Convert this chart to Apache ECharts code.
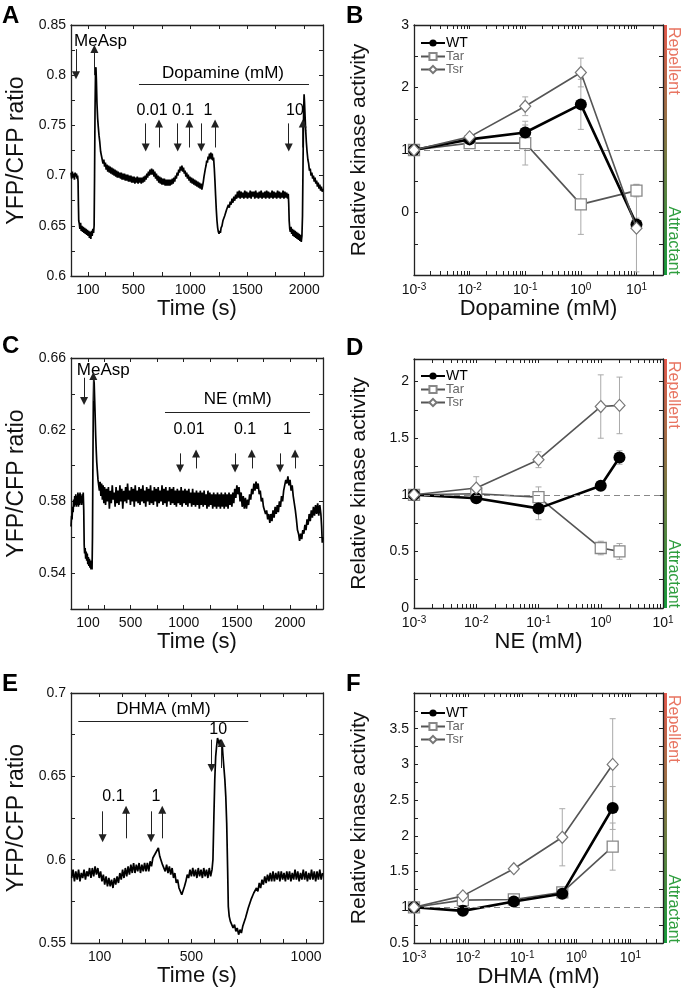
<!DOCTYPE html>
<html><head><meta charset="utf-8">
<script src="https://cdn.jsdelivr.net/npm/echarts@6/dist/echarts.min.js"></script>
<style>html,body{margin:0;padding:0;background:#fff}#c{width:685px;height:993px}</style>
</head><body><div id="c"></div>
<script>
// ---------------- DATA ----------------
// Panel A: time trace (s, YFP/CFP ratio)
const traceA = [[-48,0.703],[-42,0.697],[-36,0.704],[-30,0.698],[-24,0.702],[-18,0.696],[-12,0.703],[-6,0.699],[0,0.702],[5,0.697],[10,0.700],[14,0.694],[17,0.672],[20,0.655],[25,0.652],[30,0.647],[36,0.653],[42,0.645],[48,0.650],[54,0.644],[60,0.649],[66,0.643],[72,0.648],[78,0.642],[84,0.647],[90,0.641],[96,0.646],[102,0.640],[108,0.645],[114,0.638],[120,0.644],[126,0.637],[132,0.645],[138,0.640],[144,0.647],[150,0.643],[155,0.650],[159,0.700],[163,0.765],[167,0.800],[171,0.808],[175,0.795],[180,0.772],[186,0.757],[192,0.748],[198,0.740],[205,0.733],[212,0.724],[219,0.720],[226,0.716],[233,0.712],[240,0.716],[247,0.709],[254,0.713],[261,0.706],[268,0.711],[275,0.704],[282,0.710],[289,0.703],[296,0.709],[303,0.702],[310,0.708],[317,0.701],[324,0.707],[331,0.700],[338,0.706],[345,0.699],[352,0.705],[359,0.698],[366,0.704],[373,0.698],[380,0.703],[387,0.697],[394,0.703],[401,0.696],[408,0.702],[415,0.696],[422,0.702],[429,0.695],[436,0.701],[443,0.695],[450,0.701],[457,0.694],[464,0.700],[471,0.694],[478,0.700],[485,0.693],[492,0.699],[499,0.693],[506,0.699],[513,0.692],[520,0.698],[527,0.693],[534,0.699],[541,0.692],[548,0.698],[555,0.693],[562,0.698],[569,0.692],[576,0.698],[583,0.693],[590,0.699],[597,0.694],[604,0.700],[611,0.696],[618,0.702],[625,0.698],[632,0.704],[639,0.700],[646,0.706],[653,0.701],[660,0.707],[667,0.701],[674,0.706],[681,0.699],[688,0.704],[695,0.697],[702,0.702],[709,0.695],[716,0.700],[723,0.693],[730,0.699],[737,0.692],[744,0.698],[751,0.691],[758,0.697],[765,0.691],[772,0.697],[779,0.690],[786,0.696],[793,0.690],[800,0.696],[807,0.690],[814,0.696],[821,0.690],[828,0.696],[835,0.691],[842,0.697],[849,0.692],[856,0.698],[863,0.694],[870,0.700],[877,0.697],[884,0.703],[891,0.700],[898,0.706],[905,0.703],[912,0.709],[919,0.705],[926,0.710],[933,0.704],[940,0.708],[947,0.702],[954,0.705],[961,0.699],[968,0.703],[975,0.697],[982,0.701],[989,0.695],[996,0.699],[1003,0.693],[1010,0.698],[1017,0.692],[1024,0.697],[1031,0.691],[1038,0.696],[1045,0.690],[1052,0.695],[1059,0.689],[1066,0.694],[1073,0.688],[1080,0.693],[1087,0.687],[1094,0.692],[1101,0.686],[1108,0.690],[1114,0.694],[1120,0.699],[1126,0.703],[1132,0.707],[1138,0.710],[1144,0.715],[1150,0.713],[1156,0.719],[1162,0.716],[1168,0.722],[1174,0.717],[1180,0.723],[1186,0.716],[1192,0.722],[1198,0.715],[1204,0.718],[1210,0.708],[1216,0.695],[1222,0.680],[1228,0.666],[1234,0.655],[1240,0.648],[1246,0.644],[1252,0.642],[1258,0.645],[1264,0.643],[1270,0.648],[1278,0.650],[1286,0.655],[1294,0.654],[1302,0.660],[1310,0.660],[1318,0.666],[1326,0.665],[1334,0.671],[1342,0.668],[1350,0.674],[1358,0.671],[1366,0.677],[1374,0.673],[1382,0.679],[1390,0.675],[1398,0.681],[1406,0.677],[1414,0.684],[1422,0.678],[1430,0.685],[1438,0.677],[1446,0.684],[1454,0.678],[1462,0.683],[1470,0.677],[1478,0.685],[1486,0.678],[1494,0.684],[1502,0.677],[1510,0.683],[1518,0.678],[1526,0.685],[1534,0.677],[1542,0.684],[1550,0.679],[1558,0.684],[1566,0.677],[1574,0.685],[1582,0.678],[1590,0.683],[1598,0.677],[1606,0.684],[1614,0.678],[1622,0.685],[1630,0.677],[1638,0.683],[1646,0.678],[1654,0.684],[1662,0.677],[1670,0.685],[1678,0.678],[1686,0.684],[1694,0.677],[1702,0.683],[1710,0.678],[1718,0.685],[1726,0.677],[1734,0.684],[1742,0.678],[1750,0.683],[1758,0.677],[1766,0.685],[1774,0.678],[1782,0.684],[1790,0.677],[1798,0.683],[1806,0.678],[1814,0.685],[1822,0.677],[1830,0.684],[1838,0.678],[1846,0.683],[1854,0.677],[1860,0.682],[1864,0.672],[1868,0.655],[1873,0.647],[1878,0.644],[1884,0.649],[1890,0.642],[1896,0.647],[1902,0.640],[1908,0.646],[1914,0.639],[1920,0.645],[1926,0.638],[1932,0.644],[1938,0.637],[1944,0.643],[1950,0.636],[1956,0.642],[1962,0.635],[1968,0.641],[1974,0.634],[1980,0.640],[1985,0.660],[1990,0.715],[1995,0.765],[1999,0.781],[2003,0.772],[2008,0.758],[2013,0.745],[2019,0.733],[2025,0.724],[2032,0.716],[2039,0.712],[2046,0.705],[2053,0.707],[2060,0.700],[2067,0.703],[2074,0.697],[2081,0.700],[2088,0.694],[2095,0.698],[2102,0.692],[2109,0.695],[2116,0.689],[2123,0.693],[2130,0.687],[2137,0.691],[2144,0.685],[2151,0.689],[2158,0.684],[2165,0.687]];
// Panel C: time trace
const traceC = [[-60,0.566],[-55,0.572],[-50,0.570],[-45,0.577],[-40,0.574],[-35,0.581],[-30,0.577],[-25,0.583],[-20,0.578],[-15,0.584],[-10,0.577],[-5,0.583],[0,0.578],[5,0.585],[10,0.577],[15,0.584],[20,0.578],[25,0.585],[30,0.579],[35,0.583],[40,0.578],[45,0.584],[50,0.579],[55,0.585],[60,0.575],[64,0.556],[68,0.551],[73,0.554],[78,0.548],[83,0.552],[88,0.547],[93,0.551],[98,0.545],[103,0.549],[108,0.544],[113,0.548],[118,0.543],[123,0.547],[128,0.542],[133,0.546],[138,0.542],[142,0.560],[146,0.600],[150,0.635],[154,0.648],[158,0.646],[162,0.638],[167,0.628],[172,0.617],[177,0.609],[182,0.602],[188,0.597],[194,0.592],[200,0.593],[207,0.586],[214,0.591],[221,0.583],[228,0.590],[235,0.581],[242,0.589],[249,0.579],[256,0.588],[265,0.578],[274,0.587],[283,0.580],[292,0.588],[301,0.576],[310,0.586],[319,0.579],[328,0.589],[337,0.581],[346,0.585],[355,0.577],[364,0.588],[373,0.579],[382,0.586],[391,0.578],[400,0.589],[409,0.580],[418,0.587],[427,0.576],[436,0.586],[445,0.580],[454,0.588],[463,0.579],[472,0.590],[481,0.581],[490,0.586],[499,0.578],[508,0.588],[517,0.580],[526,0.587],[535,0.577],[544,0.589],[553,0.580],[562,0.586],[571,0.579],[580,0.588],[589,0.578],[598,0.587],[607,0.580],[616,0.589],[625,0.579],[634,0.586],[643,0.577],[652,0.588],[661,0.580],[670,0.587],[679,0.578],[688,0.589],[697,0.579],[706,0.586],[715,0.578],[724,0.588],[733,0.580],[742,0.587],[751,0.577],[760,0.588],[769,0.579],[778,0.586],[787,0.580],[796,0.589],[805,0.578],[814,0.587],[823,0.579],[832,0.588],[841,0.577],[850,0.586],[859,0.580],[868,0.588],[877,0.578],[886,0.587],[895,0.579],[904,0.588],[913,0.578],[922,0.586],[931,0.577],[940,0.587],[949,0.579],[958,0.586],[967,0.578],[976,0.588],[985,0.577],[994,0.586],[1003,0.579],[1012,0.587],[1021,0.578],[1030,0.586],[1039,0.577],[1048,0.587],[1057,0.579],[1066,0.585],[1075,0.577],[1084,0.587],[1093,0.578],[1102,0.585],[1111,0.577],[1120,0.586],[1129,0.578],[1138,0.585],[1147,0.576],[1156,0.586],[1165,0.578],[1174,0.585],[1183,0.577],[1192,0.586],[1201,0.578],[1210,0.584],[1219,0.576],[1228,0.586],[1237,0.577],[1246,0.585],[1255,0.578],[1264,0.584],[1273,0.576],[1282,0.585],[1291,0.577],[1300,0.584],[1309,0.576],[1318,0.585],[1327,0.577],[1336,0.584],[1345,0.576],[1354,0.585],[1363,0.577],[1372,0.584],[1381,0.576],[1390,0.585],[1399,0.577],[1408,0.584],[1417,0.576],[1426,0.585],[1435,0.578],[1444,0.584],[1453,0.577],[1462,0.585],[1471,0.579],[1480,0.587],[1490,0.582],[1500,0.589],[1510,0.584],[1520,0.588],[1530,0.580],[1540,0.585],[1550,0.577],[1560,0.583],[1570,0.576],[1580,0.582],[1590,0.576],[1600,0.581],[1610,0.578],[1620,0.584],[1630,0.581],[1640,0.587],[1650,0.584],[1660,0.590],[1670,0.586],[1680,0.591],[1690,0.587],[1700,0.590],[1710,0.584],[1720,0.586],[1730,0.580],[1740,0.582],[1750,0.577],[1760,0.578],[1770,0.573],[1780,0.575],[1790,0.570],[1800,0.573],[1810,0.568],[1820,0.573],[1830,0.569],[1840,0.575],[1850,0.571],[1860,0.577],[1870,0.573],[1880,0.578],[1890,0.574],[1900,0.580],[1910,0.577],[1920,0.583],[1930,0.580],[1940,0.586],[1950,0.586],[1960,0.592],[1970,0.590],[1980,0.594],[1990,0.589],[2000,0.592],[2010,0.586],[2020,0.589],[2030,0.583],[2040,0.582],[2050,0.575],[2060,0.570],[2070,0.564],[2080,0.562],[2090,0.558],[2100,0.562],[2110,0.559],[2120,0.564],[2130,0.562],[2140,0.567],[2150,0.564],[2160,0.570],[2170,0.567],[2180,0.573],[2190,0.569],[2200,0.575],[2210,0.571],[2220,0.577],[2230,0.572],[2240,0.578],[2250,0.573],[2260,0.579],[2270,0.572],[2280,0.578],[2290,0.573],[2297,0.566],[2303,0.557],[2308,0.560]];
// Panel E: time trace
const traceE = [[-22,0.589],[-16,0.594],[-10,0.587],[-4,0.593],[2,0.588],[8,0.594],[14,0.587],[20,0.592],[26,0.589],[32,0.594],[38,0.588],[44,0.593],[50,0.590],[56,0.595],[62,0.589],[68,0.595],[74,0.590],[80,0.596],[86,0.591],[92,0.595],[98,0.589],[104,0.593],[110,0.587],[116,0.591],[122,0.585],[128,0.590],[134,0.584],[140,0.589],[146,0.584],[152,0.588],[158,0.583],[164,0.589],[170,0.585],[176,0.590],[182,0.586],[188,0.592],[194,0.588],[200,0.594],[206,0.589],[212,0.595],[218,0.590],[224,0.596],[230,0.591],[236,0.597],[242,0.592],[248,0.598],[254,0.592],[260,0.597],[266,0.593],[272,0.598],[278,0.592],[284,0.597],[290,0.593],[296,0.598],[302,0.593],[308,0.598],[314,0.593],[320,0.599],[326,0.596],[332,0.601],[338,0.600],[344,0.604],[350,0.603],[356,0.607],[362,0.602],[368,0.603],[374,0.597],[380,0.598],[386,0.593],[392,0.597],[398,0.592],[404,0.596],[410,0.591],[416,0.595],[422,0.589],[428,0.592],[434,0.586],[440,0.588],[446,0.583],[452,0.584],[458,0.579],[464,0.580],[470,0.584],[476,0.587],[482,0.591],[488,0.589],[494,0.594],[500,0.590],[506,0.595],[512,0.590],[518,0.594],[524,0.589],[530,0.595],[536,0.590],[542,0.594],[548,0.589],[554,0.595],[560,0.590],[566,0.594],[572,0.589],[578,0.595],[584,0.590],[590,0.594],[594,0.600],[598,0.625],[602,0.648],[606,0.662],[610,0.668],[614,0.673],[618,0.672],[622,0.669],[626,0.672],[630,0.668],[634,0.670],[638,0.662],[642,0.655],[646,0.648],[650,0.638],[654,0.622],[658,0.595],[661,0.572],[665,0.566],[670,0.563],[676,0.561],[682,0.559],[688,0.561],[694,0.557],[700,0.559],[706,0.555],[712,0.558],[718,0.556],[724,0.560],[730,0.560],[736,0.565],[742,0.566],[748,0.571],[754,0.571],[760,0.576],[766,0.576],[772,0.580],[778,0.579],[784,0.583],[790,0.581],[796,0.586],[802,0.583],[808,0.588],[814,0.585],[820,0.590],[826,0.586],[832,0.591],[838,0.587],[844,0.592],[850,0.587],[856,0.593],[862,0.587],[868,0.592],[874,0.588],[880,0.593],[886,0.587],[892,0.593],[898,0.588],[904,0.592],[910,0.587],[916,0.593],[922,0.588],[928,0.593],[934,0.587],[940,0.592],[946,0.588],[952,0.594],[958,0.588],[964,0.593],[970,0.587],[976,0.592],[982,0.588],[988,0.594],[994,0.588],[1000,0.593],[1006,0.587],[1012,0.592],[1018,0.588],[1024,0.594],[1030,0.588],[1036,0.593],[1042,0.587],[1048,0.593],[1054,0.588],[1060,0.594],[1066,0.588],[1072,0.592]];

// Tick labels
const timeLabelsAC = [100, 500, 1000, 1500, 2000];
const timeLabelsE = [100, 500, 1000];
const yLabelsA = [0.6, 0.65, 0.7, 0.75, 0.8, 0.85];
const yLabelsC = [0.54, 0.58, 0.62, 0.66];
const yLabelsE = [0.55, 0.6, 0.65, 0.7];
const yLabelsB = [0, 1, 2, 3];
const yLabelsD = [0, 0.5, 1, 1.5, 2];
const yLabelsF = [0.5, 1, 1.5, 2, 2.5, 3, 3.5];

// Stimulus annotations: [time, direction, lower ratio, upper ratio]
const arrowsA = [[-4,'down',0.800,0.826],[157,'up',0.800,0.826],[608,'down',0.728,0.752],[725,'up',0.728,0.752],[889,'down',0.728,0.752],[991,'up',0.728,0.752],[1096,'down',0.728,0.752],[1217,'up',0.728,0.752],[1864,'down',0.728,0.752],[1987,'up',0.728,0.752]];
const barsA = [[549, 2042, 0.791]];
const notesA = [[211,0.834,'MeAsp',17],[1287,0.802,'Dopamine (mM)',17],[664,0.765,'0.01',16],[936,0.765,'0.1',16],[1155,0.765,'1',16],[1919,0.765,'10',16]];
const arrowsC = [[63,'down',0.636,0.649],[150,'up',0.636,0.650],[966,'down',0.5984,0.6068],[1116,'up',0.5984,0.6068],[1483,'down',0.5984,0.6068],[1640,'up',0.5984,0.6068],[1906,'down',0.5984,0.6068],[2047,'up',0.5984,0.6068]];
const barsC = [[824, 2188, 0.6297]];
const notesC = [[244,0.653,'MeAsp',17],[1508,0.637,'NE (mM)',17],[1050,0.620,'0.01',16],[1577,0.620,'0.1',16],[1975,0.620,'1',16]];
const arrowsE = [[113,'down',0.6128,0.629],[215,'up',0.6128,0.630],[324,'down',0.6128,0.629],[373,'up',0.6128,0.630],[588,'down',0.655,0.672],[632,'up',0.655,0.670]];
const barsE = [[7, 748, 0.6832]];
const notesE = [[378,0.690,'DHMA (mM)',17],[160,0.638,'0.1',16],[346,0.638,'1',16],[617,0.678,'10',16]];

// Dose-response panels
const concB = [0.001, 0.01, 0.1, 1, 10];
const wtB = [1, 1.17, 1.28, 1.73, -0.19];
const tarB = [1, 1.11, 1.11, 0.13, 0.35];
const tsrB = [1, 1.21, 1.70, 2.24, -0.25];
const wtErrB = [0, 0.04, 0.12, 0.40, 0.10];
const tarErrB = [0, 0.04, 0.35, 0.48, 0.10];
const tsrErrB = [0, 0.04, 0.15, 0.23, 0.70];

const concD = [0.001, 0.01, 0.1, 1, 2];
const wtD = [1, 0.97, 0.88, 1.08, 1.33];
const tarD = [1, 1.01, 0.98, 0.53, 0.50];
const tsrD = [1, 1.06, 1.31, 1.78, 1.79];
const wtErrD = [0, 0.03, 0.10, 0.03, 0.06];
const tarErrD = [0, 0.02, 0.09, 0.06, 0.07];
const tsrErrD = [0, 0.10, 0.07, 0.28, 0.25];

const concF = [0.001, 0.008, 0.07, 0.55, 4.7];
const wtF = [1, 0.95, 1.08, 1.19, 2.39];
const tarF = [1, 1.10, 1.11, 1.21, 1.85];
const tsrF = [1, 1.16, 1.54, 1.98, 3.00];
const wtErrF = [0, 0.03, 0.05, 0.06, 0.30];
const tarErrF = [0, 0.03, 0.05, 0.05, 0.33];
const tsrErrF = [0, 0.03, 0.04, 0.40, 0.64];

// ---------------- BUILD ----------------
const FONT = 'Liberation Sans, Arial, Helvetica, sans-serif';
const AX = '#222';
const grids = [], xAxes = [], yAxes = [], series = [], legends = [], graphics = [];

function logTicks(maxExp) {
  const t = [];
  for (let e = -3; e <= maxExp; e++) for (let m = 1; m <= 9; m++) t.push(+(m * Math.pow(10, e)).toPrecision(3));
  return t;
}
function supFmt(v) {
  const l = Math.log10(v);
  if (Math.abs(l - Math.round(l)) > 1e-6) return '';
  return '10{s|' + Math.round(l) + '}';
}

function addPanel(box, x, y) {
  const gi = grids.length;
  grids.push({left: box[0], top: box[1], width: box[2], height: box[3], containLabel: false, outerBoundsMode: 'none'});
  const tick = {show: true, inside: true, length: 4, lineStyle: {color: AX, width: 1}};
  const line = {show: true, onZero: false, lineStyle: {color: AX, width: 1.3}};
  const xi = xAxes.length, yi = yAxes.length;
  const xBase = {type: x.type, gridIndex: gi, min: x.min, max: x.max, axisLine: line,
    splitLine: {show: false}, minorTick: {show: false}};
  if (x.type === 'log') xBase.logBase = 10;
  xAxes.push(Object.assign({}, xBase, {
    position: 'bottom',
    axisTick: Object.assign({}, tick, x.ticks ? {customValues: x.ticks} : {}),
    axisLabel: Object.assign({fontSize: 14, color: '#111', margin: 7, fontFamily: FONT, formatter: x.fmt, rich: x.rich},
      x.labels ? {customValues: x.labels} : {}),
    name: x.name, nameLocation: 'middle', nameGap: x.nameGap,
    nameTextStyle: {fontSize: 22, color: '#111', fontFamily: FONT}
  }));
  xAxes.push(Object.assign({}, xBase, {
    position: 'top',
    axisTick: Object.assign({}, tick, x.ticks ? {customValues: x.ticks} : {}),
    axisLabel: {show: false}
  }));
  const yBase = {type: 'value', gridIndex: gi, min: y.min, max: y.max, axisLine: line, splitLine: {show: false}};
  yAxes.push(Object.assign({}, yBase, {
    position: 'left',
    axisTick: Object.assign({}, tick, {customValues: y.ticks}),
    axisLabel: {customValues: y.labels, fontSize: 14, color: '#111', margin: 5, fontFamily: FONT, formatter: v => String(v)},
    name: y.name, nameLocation: 'middle', nameGap: y.nameGap,
    nameTextStyle: {fontSize: y.nameSize, color: '#111', fontFamily: FONT}
  }));
  yAxes.push(Object.assign({}, yBase, {
    position: 'right',
    axisTick: Object.assign({}, tick, {customValues: y.ticks}),
    axisLabel: {show: false}
  }));
  return {xi, yi};
}

function timePanel(box, x, y, trace, arrows, bars, notes) {
  const {xi, yi} = addPanel(box, x, y);
  const mlData = arrows.map(a => a[1] === 'down'
    ? [{coord: [a[0], a[3]], symbol: 'none'}, {coord: [a[0], a[2]], symbol: 'triangle'}]
    : [{coord: [a[0], a[2]], symbol: 'none'}, {coord: [a[0], a[3]], symbol: 'triangle'}]);
  bars.forEach(b => mlData.push([{coord: [b[0], b[2]], symbol: 'none'}, {coord: [b[1], b[2]], symbol: 'none'}]));
  series.push({
    type: 'line', xAxisIndex: xi, yAxisIndex: yi, data: trace, symbol: 'none', showSymbol: false,
    lineStyle: {color: '#000', width: 1.7}, z: 3, silent: true,
    markLine: {silent: true, symbolSize: 8, lineStyle: {color: '#222', width: 1, type: 'solid'},
      label: {show: false}, data: mlData, animation: false}
  });
  series.push({
    type: 'custom', xAxisIndex: xi, yAxisIndex: yi, silent: true, z: 4, data: notes,
    renderItem: (p, api) => {
      const n = notes[p.dataIndex];
      const c = api.coord([n[0], n[1]]);
      return {type: 'text', x: c[0], y: c[1], style: {text: n[2], fill: '#000',
        font: n[3] + 'px ' + FONT, textAlign: 'center', textVerticalAlign: 'middle'}};
    }
  });
}

function dosePanel(box, x, y, conc, wt, tar, tsr, wtE, tarE, tsrE, legendPos) {
  const {xi, yi} = addPanel(box, x, y);
  const pts = arr => conc.map((c, i) => [c, arr[i]]);
  const errData = [];
  [[wt, wtE], [tar, tarE], [tsr, tsrE]].forEach(([v, e]) => conc.forEach((c, i) => {
    if (e[i] > 0) errData.push([c, v[i] - e[i], v[i] + e[i]]);
  }));
  series.push({
    type: 'custom', xAxisIndex: xi, yAxisIndex: yi, z: 1, silent: true, data: errData,
    renderItem: (p, api) => {
      const a = api.coord([api.value(0), api.value(1)]), b = api.coord([api.value(0), api.value(2)]);
      const st = {stroke: '#aaa', lineWidth: 1};
      return {type: 'group', children: [
        {type: 'line', shape: {x1: a[0], y1: a[1], x2: b[0], y2: b[1]}, style: st},
        {type: 'line', shape: {x1: a[0] - 3, y1: a[1], x2: a[0] + 3, y2: a[1]}, style: st},
        {type: 'line', shape: {x1: b[0] - 3, y1: b[1], x2: b[0] + 3, y2: b[1]}, style: st}
      ]};
    }
  });
  series.push({
    type: 'line', name: 'Tar', xAxisIndex: xi, yAxisIndex: yi, data: pts(tar), z: 3,
    symbol: 'rect', symbolSize: 11, lineStyle: {color: '#555', width: 1.6},
    itemStyle: {color: '#fff', borderColor: '#888', borderWidth: 1.3},
    markLine: {silent: true, symbol: 'none', label: {show: false}, data: [{yAxis: 1}],
      lineStyle: {color: '#888', width: 1, type: [6, 4]}, animation: false}
  });
  series.push({
    type: 'line', name: 'WT', xAxisIndex: xi, yAxisIndex: yi, data: pts(wt), z: 4,
    symbol: 'circle', symbolSize: 12, lineStyle: {color: '#000', width: 2.6},
    itemStyle: {color: '#000'}
  });
  series.push({
    type: 'line', name: 'Tsr', xAxisIndex: xi, yAxisIndex: yi, data: pts(tsr), z: 5,
    symbol: 'diamond', symbolSize: [11, 12], lineStyle: {color: '#555', width: 1.6},
    itemStyle: {color: '#fff', borderColor: '#777', borderWidth: 1.2}
  });
  legends.push({
    left: legendPos[0], top: legendPos[1], orient: 'vertical', itemWidth: 24, itemHeight: 9, itemGap: 0,
    selectedMode: false, padding: 0,
    textStyle: {fontSize: 13, fontFamily: FONT, lineHeight: 10, padding: [0, 0, 0, -4]},
    data: [{name: 'WT', textStyle: {color: '#000', fontSize: 14, lineHeight: 10}}, {name: 'Tar', textStyle: {color: '#666'}}, {name: 'Tsr', textStyle: {color: '#666'}}]
  });
  const bx = box[0] + box[2] + 1, top = box[1], bot = box[1] + box[3];
  graphics.push({type: 'rect', shape: {x: bx, y: top, width: 3, height: box[3]}, silent: true,
    style: {fill: new echarts.graphic.LinearGradient(0, 0, 0, 1, [{offset: 0, color: '#e4584c'}, {offset: 1, color: '#169c3c'}])}});
  graphics.push({type: 'text', x: bx + 9, y: top + 2, rotation: -Math.PI / 2, silent: true,
    style: {text: 'Repellent', fill: '#e87562', font: '16px ' + FONT, textAlign: 'left', textVerticalAlign: 'middle'}});
  graphics.push({type: 'text', x: bx + 9, y: bot, rotation: -Math.PI / 2, silent: true,
    style: {text: 'Attractant', fill: '#2f9e3f', font: '16px ' + FONT, textAlign: 'right', textVerticalAlign: 'middle'}});
}

const timeTicksAC = [100, 250, 500, 750, 1000, 1250, 1500, 1750, 2000, 2250];
const supRich = {s: {fontSize: 10, verticalAlign: 'top', fontFamily: FONT, color: '#111', padding: [0, 0, 6, 0]}};

timePanel([71, 25, 252, 251],
  {type: 'value', min: -48, max: 2165, ticks: timeTicksAC, labels: timeLabelsAC, fmt: v => String(v), name: 'Time (s)', nameGap: 20},
  {min: 0.6, max: 0.85, ticks: [0.6,0.625,0.65,0.675,0.7,0.725,0.75,0.775,0.8,0.825,0.85], labels: yLabelsA, name: 'YFP/CFP ratio', nameGap: 43, nameSize: 23},
  traceA, arrowsA, barsA, notesA);

timePanel([71, 358, 252, 251],
  {type: 'value', min: -60, max: 2310, ticks: timeTicksAC, labels: timeLabelsAC, fmt: v => String(v), name: 'Time (s)', nameGap: 20},
  {min: 0.52, max: 0.66, ticks: [0.52,0.54,0.56,0.58,0.6,0.62,0.64,0.66], labels: yLabelsC, name: 'YFP/CFP ratio', nameGap: 43, nameSize: 23},
  traceC, arrowsC, barsC, notesC);

timePanel([71, 693, 252, 250],
  {type: 'value', min: -25, max: 1074, ticks: [100,200,300,400,500,600,700,800,900,1000], labels: timeLabelsE, fmt: v => String(v), name: 'Time (s)', nameGap: 20},
  {min: 0.55, max: 0.7, ticks: [0.55,0.575,0.6,0.625,0.65,0.675,0.7], labels: yLabelsE, name: 'YFP/CFP ratio', nameGap: 43, nameSize: 23},
  traceE, arrowsE, barsE, notesE);

dosePanel([414, 25, 249, 250],
  {type: 'log', min: 0.001, max: 30, ticks: logTicks(1).filter(v => v <= 30), fmt: supFmt, rich: supRich, name: 'Dopamine (mM)', nameGap: 20},
  {min: -1, max: 3, ticks: [-1,-0.5,0,0.5,1,1.5,2,2.5,3], labels: yLabelsB, name: 'Relative kinase activity', nameGap: 44, nameSize: 21},
  concB, wtB, tarB, tsrB, wtErrB, tarErrB, tsrErrB, [420, 36]);

dosePanel([414, 359, 249, 249],
  {type: 'log', min: 0.001, max: 10, ticks: logTicks(1).filter(v => v <= 10), fmt: supFmt, rich: supRich, name: 'NE (mM)', nameGap: 20},
  {min: 0, max: 2.2, ticks: [0,0.25,0.5,0.75,1,1.25,1.5,1.75,2], labels: yLabelsD, name: 'Relative kinase activity', nameGap: 44, nameSize: 21},
  concD, wtD, tarD, tsrD, wtErrD, tarErrD, tsrErrD, [420, 369]);

dosePanel([414, 693, 249, 250],
  {type: 'log', min: 0.001, max: 40, ticks: logTicks(1).filter(v => v <= 40), fmt: supFmt, rich: supRich, name: 'DHMA (mM)', nameGap: 20},
  {min: 0.5, max: 4, ticks: [0.5,0.75,1,1.25,1.5,1.75,2,2.25,2.5,2.75,3,3.25,3.5,3.75,4], labels: yLabelsF, name: 'Relative kinase activity', nameGap: 44, nameSize: 21},
  concF, wtF, tarF, tsrF, wtErrF, tarErrF, tsrErrF, [420, 706]);

[['A', 2, 4], ['B', 346, 4], ['C', 2, 334], ['D', 346, 336], ['E', 2, 672], ['F', 346, 672]].forEach(l =>
  graphics.push({type: 'text', x: l[1], y: l[2], silent: true,
    style: {text: l[0], fill: '#000', font: 'bold 24px ' + FONT}}));

const chart = echarts.init(document.getElementById('c'), null, {renderer: 'canvas'});
chart.setOption({
  animation: false, backgroundColor: '#fff',
  grid: grids, xAxis: xAxes, yAxis: yAxes, series: series, legend: legends, graphic: graphics
});
</script></body></html>
